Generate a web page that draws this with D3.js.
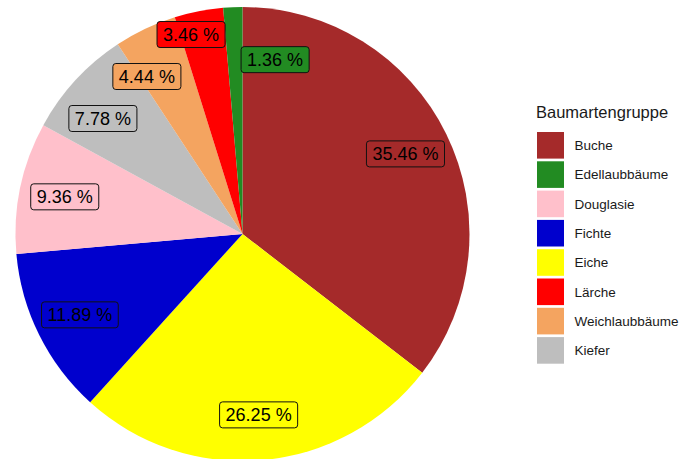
<!DOCTYPE html>
<html>
<head>
<meta charset="utf-8">
<script src="https://cdn.jsdelivr.net/npm/d3@7"></script>
<style>
  body { margin: 0; background: #fff; }
  text { font-family: "Liberation Sans", Arial, Helvetica, sans-serif; }
</style>
</head>
<body>
<svg id="chart" width="696" height="459"></svg>
<script>
// shares per tree species group, in pie order (clockwise from 12 o'clock)
var species = ['Buche', 'Eiche', 'Fichte', 'Douglasie', 'Kiefer', 'Weichlaubbäume', 'Lärche', 'Edellaubbäume']
var shares = [35.46, 26.25, 11.89, 9.36, 7.78, 4.44, 3.46, 1.36]

// legend order + colours
var legendTitle = 'Baumartengruppe'
var legendSpecies = ['Buche', 'Edellaubbäume', 'Douglasie', 'Fichte', 'Eiche', 'Lärche', 'Weichlaubbäume', 'Kiefer']
var legendColors = ['#a52a2a', '#228b22', '#ffc0cb', '#0000cd', '#ffff00', '#ff0000', '#f4a460', '#bebebe']

var svg = d3.select('#chart')
var cx = 242.5
var cy = 234
var radius = 227

var color = d3.scaleOrdinal().domain(legendSpecies).range(legendColors)

var data = species.map((s, i) => ({ name: s, value: shares[i] }))

var pie = d3.pie().sort(null).value((d) => d.value)
var arc = d3.arc().innerRadius(0).outerRadius(radius)
var arcs = pie(data)

var g = svg.append('g').attr('transform', 'translate(' + cx + ',' + cy + ')')

g.selectAll('path.slice')
  .data(arcs)
  .enter()
  .append('path')
  .attr('class', 'slice')
  .attr('d', arc)
  .attr('fill', (d) => color(d.data.name))

// labels: start at slice mid angle, then push apart (like ggrepel)
var labelR = radius * 0.8
var padX = 6
var boxH = 26
var boxGap = 16

var lab = g.selectAll('g.lab')
  .data(arcs)
  .enter()
  .append('g')
  .attr('class', 'lab')

var rects = lab.append('rect')
var texts = lab.append('text')
  .attr('text-anchor', 'middle')
  .attr('dy', '0.36em')
  .style('font-size', '18px')
  .attr('fill', '#000')
  .text((d) => d3.format('.2f')(d.data.value) + ' %')

var nodes = arcs.map((a, i) => {
  var m = (a.startAngle + a.endAngle) / 2
  var ax = Math.sin(m) * labelR
  var ay = -Math.cos(m) * labelR
  var w = texts.nodes()[i].getComputedTextLength() + 2 * padX
  return { ax: ax, ay: ay, x: ax, y: ay, w: w, h: boxH }
})

// rectangle collision force
function rectCollide () {
  var ns
  function force (alpha) {
    for (var i = 0; i < ns.length; i++) {
      for (var j = i + 1; j < ns.length; j++) {
        var a = ns[i]
        var b = ns[j]
        var dx = b.x - a.x
        var dy = b.y - a.y
        var ox = (a.w + b.w) / 2 + boxGap - Math.abs(dx)
        var oy = (a.h + b.h) / 2 + boxGap - Math.abs(dy)
        if (ox > 0 && oy > 0) {
          var d = Math.sqrt(dx * dx + dy * dy) || 1
          var push = Math.min(ox, oy) * 0.5
          a.vx -= dx / d * push
          a.vy -= dy / d * push
          b.vx += dx / d * push
          b.vy += dy / d * push
        }
      }
    }
  }
  force.initialize = function (n) { ns = n }
  return force
}

var sim = d3.forceSimulation(nodes)
  .force('x', d3.forceX((d) => d.ax).strength(0.04))
  .force('y', d3.forceY((d) => d.ay).strength(0.04))
  .force('collide', rectCollide())
  .stop()
for (var k = 0; k < 300; k++) sim.tick()

lab.attr('transform', (d, i) => 'translate(' + nodes[i].x + ',' + nodes[i].y + ')')
rects
  .attr('x', (d, i) => -nodes[i].w / 2)
  .attr('y', -boxH / 2)
  .attr('width', (d, i) => nodes[i].w)
  .attr('height', boxH)
  .attr('rx', 3)
  .attr('fill', (d) => color(d.data.name))
  .attr('stroke', '#111')
  .attr('stroke-width', 1)

// legend
var legend = svg.append('g').attr('transform', 'translate(537,0)')
legend.append('text')
  .attr('x', -1)
  .attr('y', 118)
  .style('font-size', '16.5px')
  .attr('fill', '#1a1a1a')
  .text(legendTitle)

var keyY = d3.scaleBand().domain(legendSpecies).range([132, 132 + 29.3 * legendSpecies.length])

var items = legend.selectAll('g.item')
  .data(legendSpecies)
  .enter()
  .append('g')
  .attr('class', 'item')
  .attr('transform', (d) => 'translate(0,' + keyY(d) + ')')

items.append('rect')
  .attr('width', 27)
  .attr('height', 26.6)
  .attr('fill', (d) => color(d))

items.append('text')
  .attr('x', 37.5)
  .attr('y', 13.3)
  .attr('dy', '0.36em')
  .style('font-size', '13.5px')
  .attr('fill', '#1a1a1a')
  .text((d) => d)
</script>
</body>
</html>
